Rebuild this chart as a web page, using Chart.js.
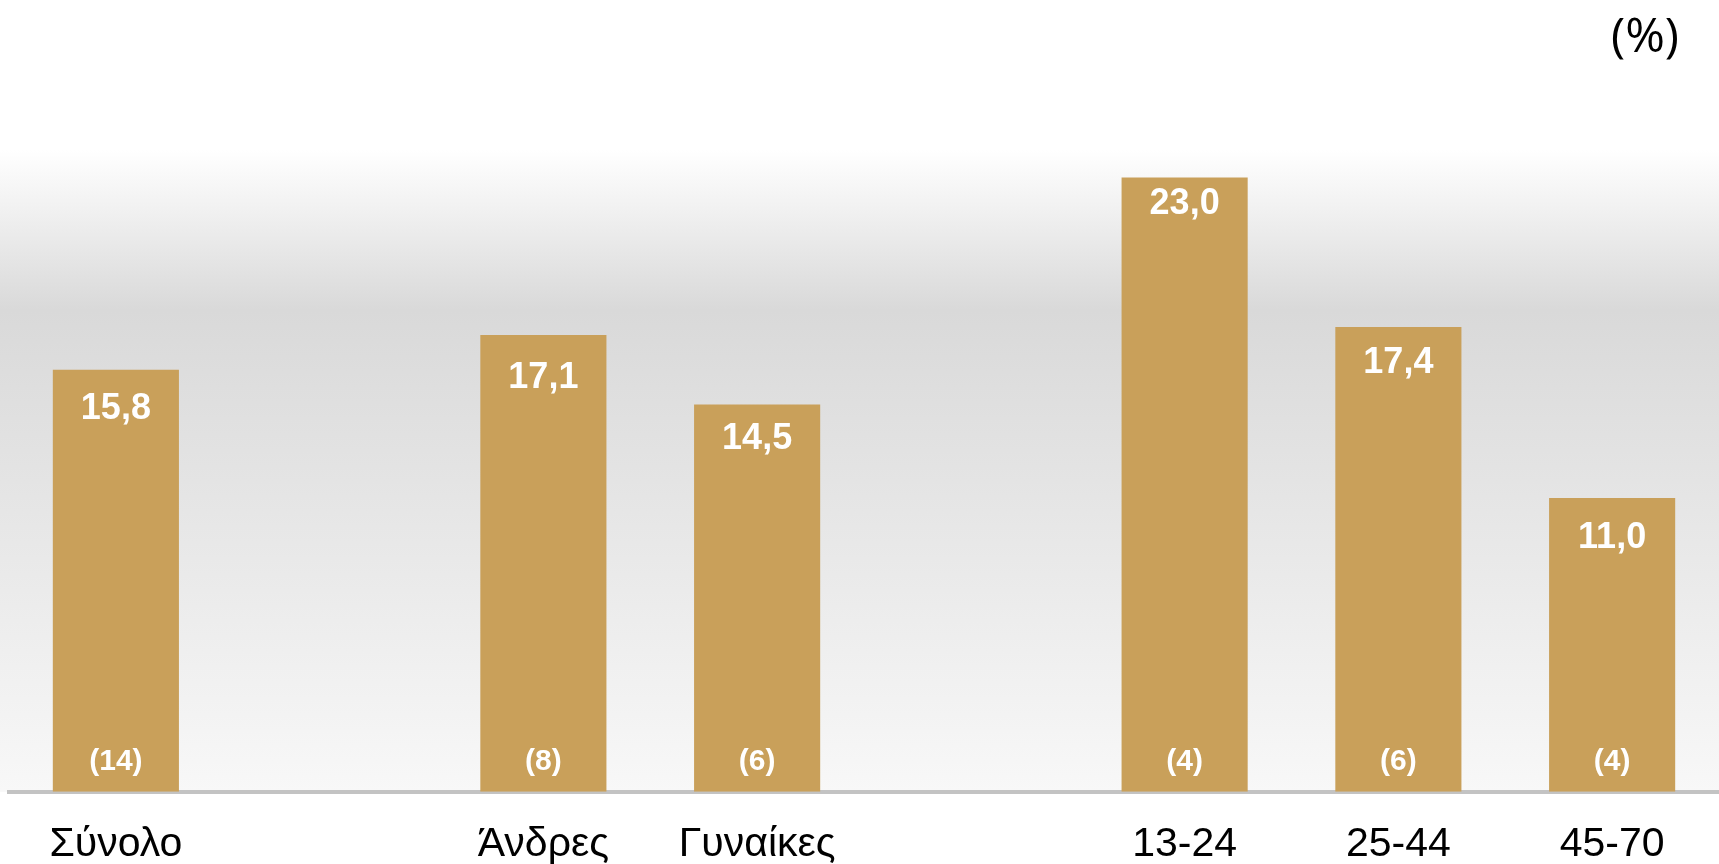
<!DOCTYPE html>
<html>
<head>
<meta charset="utf-8">
<script src="https://cdn.jsdelivr.net/npm/chart.js@4/dist/chart.umd.min.js"></script>
<style>
  html, body { margin: 0; padding: 0; background: #ffffff; }
  #wrap { width: 1719px; height: 864px; position: relative; }
</style>
</head>
<body>
<div id="wrap"><canvas id="myChart"></canvas></div>
<script>
// categories (empty strings are the gaps between groups)
const categories = ['Σύνολο', '', 'Άνδρες', 'Γυναίκες', '', '13-24', '25-44', '45-70'];
const shareValues = [15.8, null, 17.1, 14.5, null, 23.0, 17.4, 11.0];
const sampleCounts = [14, null, 8, 6, null, 4, 6, 4];
const unitLabel = '(%)';

const barColor = '#c9a05a';
// how far below the bar top each value label sits (px)
const labelOffsets = [39, 0, 43, 35, 0, 27, 36, 40];

// grey band behind the bars + the unit text
const backgroundPlugin = {
    id: 'background',
    beforeDraw(chart) {
        const ctx = chart.ctx;
        const bottom = chart.chartArea.bottom;
        ctx.save();
        ctx.fillStyle = '#ffffff';
        ctx.fillRect(0, 0, chart.width, chart.height);
        const grad = ctx.createLinearGradient(0, 0, 0, bottom);
        grad.addColorStop(0, '#ffffff');
        grad.addColorStop(150 / bottom, '#ffffff');
        grad.addColorStop(310 / bottom, '#d9d9d9');
        grad.addColorStop(1, '#f8f8f8');
        ctx.fillStyle = grad;
        ctx.fillRect(0, 0, chart.width, bottom);
        ctx.restore();
    },
    afterDraw(chart) {
        const ctx = chart.ctx;
        ctx.save();
        ctx.fillStyle = '#000000';
        ctx.font = '48px "Open Sans"';
        ctx.textAlign = 'center';
        ctx.textBaseline = 'middle';
        ctx.fillText(unitLabel, 1645, 38);
        ctx.restore();
    }
};

// value at the top of each bar, sample size at the bottom
const barLabelsPlugin = {
    id: 'barLabels',
    afterDatasetsDraw(chart) {
        const ctx = chart.ctx;
        const meta = chart.getDatasetMeta(0);
        const bottom = chart.chartArea.bottom;
        ctx.save();
        ctx.fillStyle = '#ffffff';
        ctx.textAlign = 'center';
        ctx.textBaseline = 'middle';
        meta.data.forEach((bar, i) => {
            if (shareValues[i] == null) return;
            ctx.font = 'bold 36px "Liberation Sans"';
            ctx.fillText(shareValues[i].toFixed(1).replace('.', ','), bar.x, bar.y + labelOffsets[i]);
            ctx.font = 'bold 30px "Liberation Sans"';
            ctx.fillText('(' + sampleCounts[i] + ')', bar.x, bottom - 30);
        });
        ctx.restore();
    }
};

const myChart = new Chart(document.getElementById('myChart'), {
    type: 'bar',
    data: {
        labels: categories,
        datasets: [{
            data: shareValues,
            backgroundColor: barColor,
            borderWidth: 0,
            categoryPercentage: 1.0,
            barPercentage: 0.59
        }]
    },
    options: {
        responsive: true,
        maintainAspectRatio: false,
        animation: false,
        layout: { padding: { left: 9, right: 0, top: 124, bottom: -33 } },
        plugins: {
            legend: { display: false },
            tooltip: { enabled: false }
        },
        scales: {
            x: {
                grid: { display: false, drawTicks: false },
                border: { display: true, color: '#c3c3c3', width: 4 },
                ticks: {
                    color: '#000000',
                    padding: 28,
                    maxRotation: 0,
                    autoSkip: false,
                    font: { family: '"Liberation Sans"', size: 41, lineHeight: 1.2 }
                }
            },
            y: {
                display: false,
                min: 0,
                max: 25
            }
        }
    },
    plugins: [backgroundPlugin, barLabelsPlugin]
});
</script>
</body>
</html>
